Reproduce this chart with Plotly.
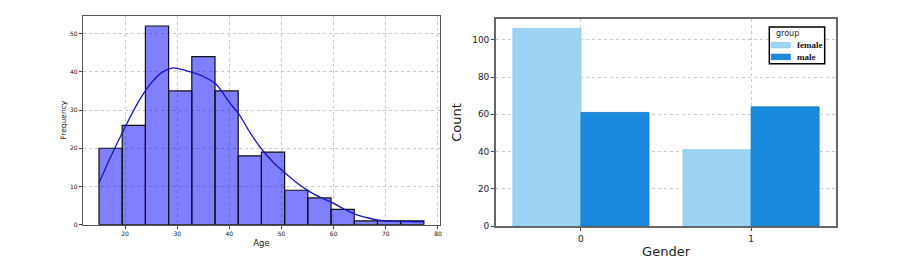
import numpy as np
import plotly.graph_objects as go

# ---- data: left histogram ----
age_min = 15.0
age_max = 77.3
age_counts = [20, 26, 52, 35, 44, 35, 18, 19, 9, 7, 4, 1, 1, 1]
kde_x = [15, 17.5, 20, 22.5, 24.5, 27, 29, 31, 33, 35, 37.4, 40, 41.9, 44, 46.4, 48.5,
         50.8, 53, 55.3, 57.5, 59.8, 62, 64.2, 66.5, 68.6, 71, 73.1, 75.5, 77.3]
kde_y = [10.9, 18.5, 25.5, 32, 36.2, 39.8, 41, 40.6, 39.8, 38.8, 36.8, 32, 28.8, 24, 19.4, 16.2,
         13.4, 10.9, 8.7, 7.1, 5.7, 4.1, 2.7, 1.8, 1.2, 0.9, 0.8, 0.75, 0.75]
age_xticks = [20, 30, 40, 50, 60, 70, 80]
freq_yticks = [0, 10, 20, 30, 40, 50]

# ---- data: right grouped bars ----
gender_cats = [0, 1]
female_counts = [106, 41]
male_counts = [61, 64]
count_yticks = [0, 20, 40, 60, 80, 100]
group_names = ["female", "male"]
group_colors = ["#9dd3f3", "#1a8ade"]
group_edges = ["#8cc6ea", "#1577c4"]

W, H = 911, 262

n_bins = len(age_counts)
edges = np.linspace(age_min, age_max, n_bins + 1)
centers = (edges[:-1] + edges[1:]) / 2
bw = edges[1] - edges[0]

fig = go.Figure()

fig.add_trace(go.Bar(
    x=centers, y=age_counts, width=[bw] * n_bins,
    marker=dict(color="rgba(0,0,255,0.5)", line=dict(color="#111111", width=1.2)),
    xaxis="x", yaxis="y", showlegend=False,
))
fig.add_trace(go.Scatter(
    x=kde_x, y=kde_y, mode="lines", line=dict(color="#1414c8", width=1.3, shape="spline"),
    xaxis="x", yaxis="y", showlegend=False,
))

for name, vals, col, ecol in zip(group_names, [female_counts, male_counts], group_colors, group_edges):
    fig.add_trace(go.Bar(
        x=gender_cats, y=vals, name=name, offsetgroup=name,
        marker=dict(color=col, line=dict(color=ecol, width=0.8)),
        xaxis="x2", yaxis="y2", showlegend=False,
    ))

grid = dict(showgrid=True, gridcolor="#c8c8c8", griddash="dot", gridwidth=1)
small = dict(family="DejaVu Sans", size=6, color="#111")


def px(x):
    return x / W


def py(y):
    return 1 - y / H


# manual legend (box, patches, labels)
shapes = [dict(type="rect", xref="paper", yref="paper", x0=px(771), x1=px(826.5), y0=py(65), y1=py(27.5),
               line=dict(color="black", width=1.5), fillcolor="white", layer="above")]
annotations = [dict(text="group", xref="paper", yref="paper", x=px(776), y=py(34.5), xanchor="left",
                    yanchor="middle", showarrow=False, font=dict(family="DejaVu Sans", size=8, color="#222"))]
row_y = [46, 58]
for name, col, ecol, ry in zip(group_names, group_colors, group_edges, row_y):
    shapes.append(dict(type="rect", xref="paper", yref="paper", x0=px(773), x1=px(792),
                       y0=py(ry + 2.8), y1=py(ry - 2.8), line=dict(color=ecol, width=0.8),
                       fillcolor=col, layer="above"))
    annotations.append(dict(text="<b>" + name + "</b>", xref="paper", yref="paper", x=px(797), y=py(ry),
                            xanchor="left", yanchor="middle", showarrow=False,
                            font=dict(family="Liberation Serif", size=9, color="#111")))

fig.update_layout(
    width=W, height=H,
    margin=dict(l=0, r=0, t=0, b=0),
    paper_bgcolor="white", plot_bgcolor="white",
    barmode="group", bargap=0.2, bargroupgap=0,
    showlegend=False,
    shapes=shapes, annotations=annotations,
    xaxis=dict(domain=[px(83), px(441)], range=[11.9, 80.4], tickvals=age_xticks,
               ticks="outside", ticklen=3, tickcolor="#444", tickfont=small,
               showline=True, linecolor="#555", linewidth=1.2, mirror=True, zeroline=False,
               title=dict(text="Age", font=dict(family="DejaVu Sans", size=8.5, color="#222"), standoff=4),
               anchor="y", **grid),
    yaxis=dict(domain=[1 - 229 / H, 1 - 16 / H], range=[0, 54.7], tickvals=freq_yticks,
               ticks="outside", ticklen=3, tickcolor="#444", tickfont=small,
               showline=True, linecolor="#555", linewidth=1.2, mirror=True, zeroline=False,
               title=dict(text="Frequency", font=dict(family="DejaVu Sans", size=7.5, color="#222"), standoff=2),
               anchor="x", **grid),
    xaxis2=dict(domain=[px(497), px(838)], range=[-0.5, 1.5], tickvals=gender_cats,
                ticks="outside", ticklen=3, tickcolor="#444",
                tickfont=dict(family="DejaVu Sans", size=9, color="#222"),
                showline=True, linecolor="#666", linewidth=1.5, mirror=True, zeroline=False,
                title=dict(text="Gender", font=dict(family="DejaVu Sans", size=13, color="#222"), standoff=4),
                anchor="y2", **grid),
    yaxis2=dict(domain=[1 - 230.5 / H, 1 - 19.3 / H], range=[0, 111.2], tickvals=count_yticks,
                ticks="outside", ticklen=3, tickcolor="#444",
                tickfont=dict(family="DejaVu Sans", size=9, color="#222"),
                showline=True, linecolor="#666", linewidth=1.5, mirror=True, zeroline=False,
                title=dict(text="Count", font=dict(family="DejaVu Sans", size=13, color="#222"), standoff=8),
                anchor="x2", **grid),
)

fig.write_html("out.html")
